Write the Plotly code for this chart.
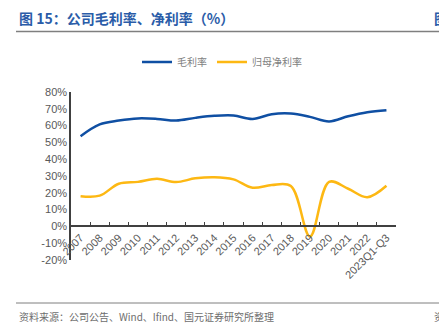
import plotly.graph_objects as go

# Categories and margin series (%)
years = ["2007", "2008", "2009", "2010", "2011", "2012", "2013", "2014", "2015",
         "2016", "2017", "2018", "2019", "2020", "2021", "2022", "2023Q1-Q3"]
gross_margin = [53.7, 60.7, 63.0, 64.3, 64.0, 63.0, 64.6, 65.8, 66.0,
                64.0, 66.8, 67.2, 65.2, 62.5, 65.6, 68.0, 69.2]
net_margin = [18.0, 18.3, 25.4, 26.5, 28.3, 26.4, 28.6, 29.3, 28.0,
              23.0, 24.6, 24.0, -6.0, 26.5, 22.4, 17.4, 24.2]
y_ticks = [-20, -10, 0, 10, 20, 30, 40, 50, 60, 70, 80]
y_tick_labels = [f"{v}%" for v in y_ticks]

W, H = 439, 329
ML, MR, MT, MB = 71, 43, 92, 69
PW, PH = W - ML - MR, H - MT - MB


def px(x):
    return (x - ML) / PW


def py(y):
    return (H - MB - y) / PH


BLUE = "#0F4FA3"
GOLD = "#FDB813"
GRAY = "#595959"
CJK = "Noto Sans CJK SC"

fig = go.Figure()
fig.add_trace(go.Scatter(x=years, y=gross_margin, name="毛利率", mode="lines",
                         line=dict(color=BLUE, width=2.5, shape="spline", smoothing=1)))
fig.add_trace(go.Scatter(x=years, y=net_margin, name="归母净利率", mode="lines",
                         line=dict(color=GOLD, width=2.5, shape="spline", smoothing=1)))

fig.update_layout(
    width=W, height=H,
    margin=dict(l=ML, r=MR, t=MT, b=MB),
    paper_bgcolor="white", plot_bgcolor="white",
    font=dict(family="Liberation Sans, Arial", color=GRAY, size=11),
    showlegend=True,
    legend=dict(orientation="h", x=px(222), xanchor="center", y=py(62), yanchor="middle",
                font=dict(family=CJK, size=10, color="#7F7F7F"),
                itemwidth=30, tracegroupgap=0, bgcolor="rgba(0,0,0,0)"),
    xaxis=dict(type="category", range=[-0.5, len(years) - 0.5],
               anchor="free", position=0.2,
               showline=True, linecolor="#404040", linewidth=1.5,
               ticks="inside", ticklen=4, tickcolor="#404040", tickson="boundaries",
               tickangle=-45, showgrid=False, zeroline=False,
               tickfont=dict(size=11, color=GRAY)),
    yaxis=dict(range=[-20, 80], tickmode="array", tickvals=y_ticks, ticktext=y_tick_labels,
               showline=True, linecolor="#404040", linewidth=1.5,
               ticks="", showgrid=False, zeroline=False,
               tickfont=dict(size=11, color=GRAY)),
)

# Header: title, rule, and footer source note
fig.add_annotation(x=px(17), y=py(18), xref="paper", yref="paper", xanchor="left",
                   yanchor="middle", showarrow=False, text="<b>图 15：公司毛利率、净利率（%）</b>",
                   font=dict(family=CJK, size=14, color="#2A5CA8"))
fig.add_annotation(x=px(432), y=py(18), xref="paper", yref="paper", xanchor="left",
                   yanchor="middle", showarrow=False, text="<b>图</b>",
                   font=dict(family=CJK, size=14, color="#2A5CA8"))
fig.add_annotation(x=px(17), y=py(316), xref="paper", yref="paper", xanchor="left",
                   yanchor="middle", showarrow=False,
                   text="资料来源：公司公告、Wind、Ifind、国元证券研究所整理",
                   font=dict(family=CJK, size=10, color="#6E6E6E"))
fig.add_annotation(x=px(432), y=py(316), xref="paper", yref="paper", xanchor="left",
                   yanchor="middle", showarrow=False, text="资",
                   font=dict(family=CJK, size=10, color="#6E6E6E"))
fig.add_shape(type="line", xref="paper", yref="paper", x0=px(16), x1=px(439),
              y0=py(31.5), y1=py(31.5), line=dict(color="#7F7F7F", width=1.5))
fig.add_shape(type="line", xref="paper", yref="paper", x0=px(16), x1=px(439),
              y0=py(303), y1=py(303), line=dict(color="#7F7F7F", width=1))

fig.write_html("out.html")
